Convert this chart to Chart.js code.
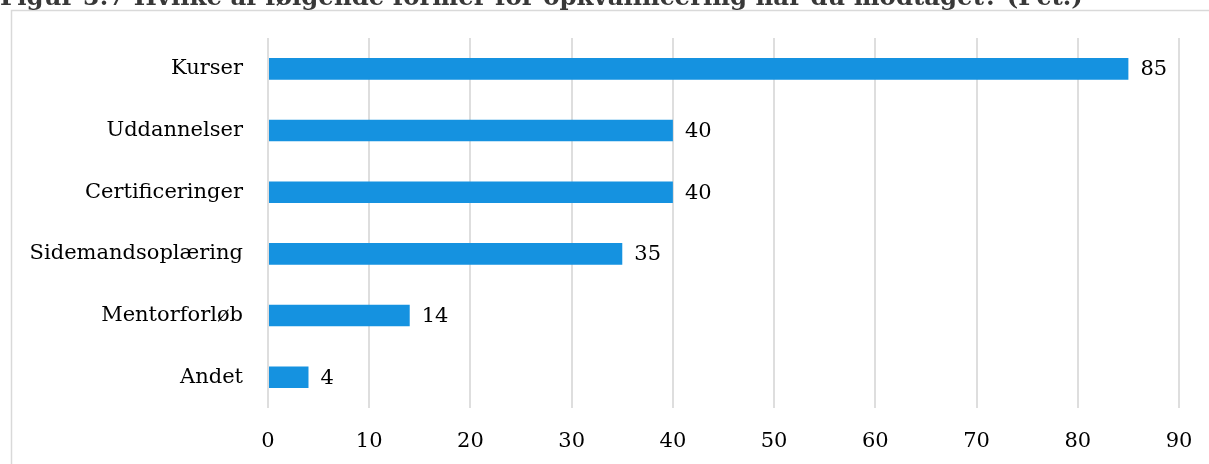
<!DOCTYPE html>
<html>
<head>
<meta charset="utf-8">
<title>Figur 5.7</title>
<script src="https://cdn.jsdelivr.net/npm/chart.js@4"></script>
<style>
    html, body {margin: 0; padding: 0; background: #fff; overflow: hidden;}
    #chart {display: block;}
</style>
</head>
<body>
<canvas id="chart" width="1209" height="464"></canvas>
<script>
var titleText = 'Figur 5.7 Hvilke af følgende former for opkvalificering har du modtaget? (Pct.)';
var categories = ['Kurser', 'Uddannelser', 'Certificeringer', 'Sidemandsoplæring', 'Mentorforløb', 'Andet'];
var values = [85, 40, 40, 35, 14, 4];
var xTicks = [0, 10, 20, 30, 40, 50, 60, 70, 80, 90];

var serif = "'DejaVu Serif', 'Liberation Serif', serif";

// Frame around the chart and the (partly hidden) title above it
var framePlugin = {
    id: 'frame',
    beforeDraw: function (chart) {
        var ctx = chart.ctx;
        ctx.save();
        ctx.strokeStyle = '#d9d9d9';
        ctx.lineWidth = 1.5;
        ctx.beginPath();
        ctx.moveTo(11.5, chart.height + 2);
        ctx.lineTo(11.5, 10.5);
        ctx.lineTo(chart.width + 2, 10.5);
        ctx.stroke();

        // fit the title to its width
        ctx.font = 'bold 100px ' + serif;
        var w = ctx.measureText(titleText).width;
        var size = 100 * 1083 / w;
        ctx.font = 'bold ' + size.toFixed(2) + 'px ' + serif;
        ctx.fillStyle = '#383838';
        ctx.textAlign = 'left';
        ctx.textBaseline = 'alphabetic';
        ctx.fillText(titleText, 0, 5);
        ctx.restore();
    }
};

// Value printed just right of each bar
var valueLabels = {
    id: 'valueLabels',
    afterDatasetsDraw: function (chart) {
        var ctx = chart.ctx;
        var meta = chart.getDatasetMeta(0);
        ctx.save();
        ctx.font = '21px ' + serif;
        ctx.fillStyle = '#000000';
        ctx.textAlign = 'left';
        ctx.textBaseline = 'middle';
        meta.data.forEach(function (bar, i) {
            ctx.fillText(String(values[i]), bar.x + 12, bar.y + 1);
        });
        ctx.restore();
    }
};

var ctx = document.getElementById('chart').getContext('2d');
new Chart(ctx, {
    type: 'bar',
    data: {
        labels: categories,
        datasets: [{
            data: values,
            backgroundColor: '#1592e0',
            borderWidth: 0,
            categoryPercentage: 1,
            barPercentage: 0.35
        }]
    },
    options: {
        indexAxis: 'y',
        responsive: false,
        animation: false,
        devicePixelRatio: 1,
        layout: {padding: {top: 38, right: 30, left: 0, bottom: 0}},
        plugins: {legend: {display: false}, tooltip: {enabled: false}},
        scales: {
            x: {
                min: 0,
                max: 90,
                afterBuildTicks: function (scale) {
                    scale.ticks = xTicks.map(function (v) { return {value: v}; });
                },
                afterFit: function (scale) {
                    scale.height = 56;
                    scale.paddingLeft = 0;
                    scale.paddingRight = 0;
                },
                grid: {color: '#dedede', lineWidth: 2, drawTicks: false},
                border: {display: false},
                ticks: {
                    padding: 21,
                    color: '#000000',
                    font: {family: serif, size: 21}
                }
            },
            y: {
                afterFit: function (scale) { scale.width = 268; },
                grid: {display: false},
                border: {display: false},
                ticks: {
                    padding: 17,
                    color: '#000000',
                    font: {family: serif, size: 21}
                }
            }
        }
    },
    plugins: [framePlugin, valueLabels]
});
</script>
</body>
</html>
